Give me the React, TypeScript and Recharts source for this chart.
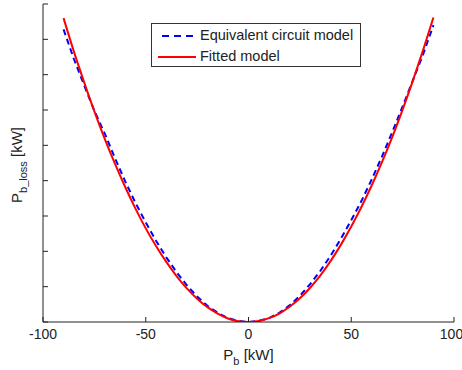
import React from 'react';
import { LineChart, Line, XAxis, YAxis } from 'recharts';

// battery power [kW]
const power = [
  -90, -85, -80, -75, -70, -65, -60, -55, -50, -45, -40, -35, -30, -25, -20, -15, -10, -5, 0,
  5, 10, 15, 20, 25, 30, 35, 40, 45, 50, 55, 60, 65, 70, 75, 80, 85, 90,
];
// loss from equivalent circuit model
const circuitLoss = [
  8.28, 7.45, 6.7, 5.98, 5.34, 4.64, 3.98, 3.37, 2.82, 2.3, 1.83, 1.41, 1.04, 0.72, 0.46, 0.26, 0.11, 0.03, 0.0,
  0.03, 0.11, 0.26, 0.47, 0.74, 1.07, 1.45, 1.88, 2.36, 2.88, 3.43, 4.04, 4.69, 5.38, 6.1, 6.84, 7.58, 8.4,
];
// loss from fitted model
const fittedLoss = [
  8.6, 7.66, 6.79, 5.96, 5.19, 4.48, 3.82, 3.21, 2.65, 2.15, 1.7, 1.3, 0.95, 0.66, 0.42, 0.24, 0.1, 0.02, 0.0,
  0.03, 0.11, 0.24, 0.43, 0.67, 0.97, 1.32, 1.73, 2.19, 2.7, 3.26, 3.87, 4.53, 5.24, 6.01, 6.83, 7.7, 8.62,
];
const xTicks = [-100, -50, 0, 50, 100];
const yTicks = [0, 1, 2, 3, 4, 5, 6, 7, 8, 9];

const data = power.map((p, i) => ({ p, ecm: circuitLoss[i], fit: fittedLoss[i] }));

const FONT = '"Liberation Sans", Arial, sans-serif';
const noLabel = () => '';

const XLabel = (props: any) => {
  const { x, y, width } = props.viewBox;
  return (
    <text x={x + width / 2} y={y + 38} textAnchor="middle" fontFamily={FONT} fontSize={15} fill="#222">
      P<tspan fontSize={11} dy={5}>b</tspan>
      <tspan dy={-5}> [kW]</tspan>
    </text>
  );
};

const YLabel = (props: any) => {
  const { y, height } = props.viewBox;
  const cx = 22;
  const cy = y + height / 2 + 2;
  return (
    <text
      x={cx}
      y={cy}
      transform={`rotate(-90, ${cx}, ${cy})`}
      textAnchor="middle"
      fontFamily={FONT}
      fontSize={15}
      fill="#222"
    >
      P<tspan fontSize={11} dy={5}>b_loss</tspan>
      <tspan dy={-5}> [kW]</tspan>
    </text>
  );
};

const legendItems = [
  { name: 'Equivalent circuit model', color: '#0000ff', dash: '7 5', from: 10 },
  { name: 'Fitted model', color: '#ff0000', dash: undefined, from: 6 },
];

const LegendBox = () => (
  <div
    style={{
      position: 'absolute',
      left: 151,
      top: 23,
      width: 208,
      height: 42,
      border: '1px solid #333',
      background: '#fff',
      fontFamily: FONT,
      fontSize: 14.5,
      color: '#222',
    }}
  >
    {legendItems.map((item) => (
      <div key={item.name} style={{ display: 'flex', alignItems: 'center', height: 19, marginTop: 2 }}>
        <svg width={48} height={10}>
          <line x1={item.from} x2={44} y1={5} y2={5} stroke={item.color} strokeWidth={2} strokeDasharray={item.dash} />
        </svg>
        <span style={{ lineHeight: '19px' }}>{item.name}</span>
      </div>
    ))}
  </div>
);

export default function App() {
  return (
    <div style={{ position: 'absolute', left: 0, top: 0, width: 462, height: 370, background: '#fff' }}>
      <LineChart width={462} height={370} data={data} margin={{ top: 4, right: 8, left: 0, bottom: 0 }}>
        <XAxis
          dataKey="p"
          type="number"
          domain={[-100, 100]}
          ticks={xTicks}
          allowDataOverflow
          height={48}
          stroke="#222"
          tickSize={-5}
          tickMargin={12}
          tick={{ fill: '#222', fontSize: 14, fontFamily: FONT }}
          label={<XLabel />}
        />
        <XAxis
          xAxisId="top"
          orientation="top"
          type="number"
          domain={[-100, 100]}
          ticks={xTicks}
          allowDataOverflow
          height={0}
          stroke="#222"
          tickSize={-5}
          tickFormatter={noLabel}
        />
        <YAxis
          type="number"
          domain={[0, 9]}
          ticks={yTicks}
          allowDataOverflow
          width={43}
          stroke="#222"
          tickSize={-5}
          tickFormatter={noLabel}
          label={<YLabel />}
        />
        <YAxis
          yAxisId="right"
          orientation="right"
          type="number"
          domain={[0, 9]}
          ticks={yTicks}
          allowDataOverflow
          width={0}
          stroke="#222"
          tickSize={-5}
          tickFormatter={noLabel}
        />
        <Line
          dataKey="ecm"
          name="Equivalent circuit model"
          stroke="#0000ff"
          strokeWidth={2}
          strokeDasharray="6 4"
          dot={false}
          type="linear"
          isAnimationActive={false}
        />
        <Line
          dataKey="fit"
          name="Fitted model"
          stroke="#ff0000"
          strokeWidth={2}
          dot={false}
          type="monotone"
          isAnimationActive={false}
        />
      </LineChart>
      <LegendBox />
    </div>
  );
}
